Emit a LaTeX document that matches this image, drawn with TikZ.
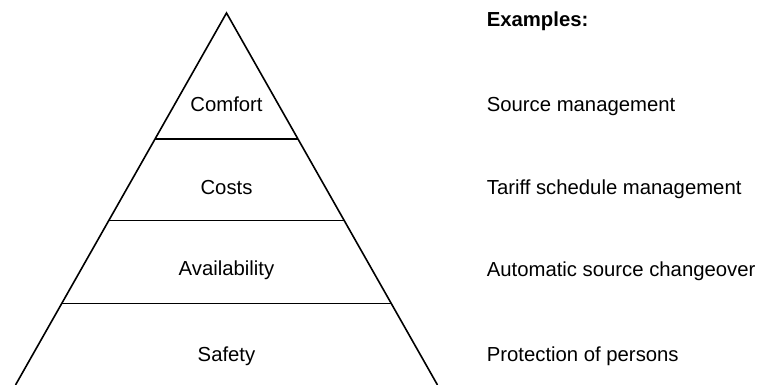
\documentclass[tikz,border=0pt]{standalone}
\usepackage{fontspec}
\setmainfont{Liberation Sans}

\begin{document}
\begin{tikzpicture}[x=1pt,y=-1pt,line width=1.6pt,
  lvl/.style={anchor=base,font=\fontsize{20.3}{24}\selectfont},
  ex/.style={anchor=base west,font=\fontsize{20.3}{24}\selectfont}]

 \useasboundingbox (0,0) rectangle (766,385);

 % la pyramide
 \draw (15.5,385)--(226.5,13)--(437.5,385);
 \draw (155,139)--(298,139);
 \draw (108.9,220.5)--(344.1,220.5);
 \draw (61.6,303.5)--(391.4,303.5);

 % les niveaux
 \node [lvl] (comfort) at (226.5,111.5) {Comfort};
 \node [lvl] (costs) at (226.5,194) {Costs};
 \node [lvl] (avail) at (226.5,275.8) {Availability};
 \node [lvl] (safety) at (226.5,361) {Safety};

 % les exemples
 \node [ex,font=\fontsize{20.3}{24}\selectfont\bfseries] (examples) at (482.7,27) {Examples:};
 \node [ex] (source) at (482.7,111.5) {Source management};
 \node [ex] (tariff) at (482.7,194.5) {Tariff schedule management};
 \node [ex] (changeover) at (482.7,276) {Automatic source changeover};
 \node [ex] (protection) at (482.7,361) {Protection of persons};
\end{tikzpicture}
\end{document}
